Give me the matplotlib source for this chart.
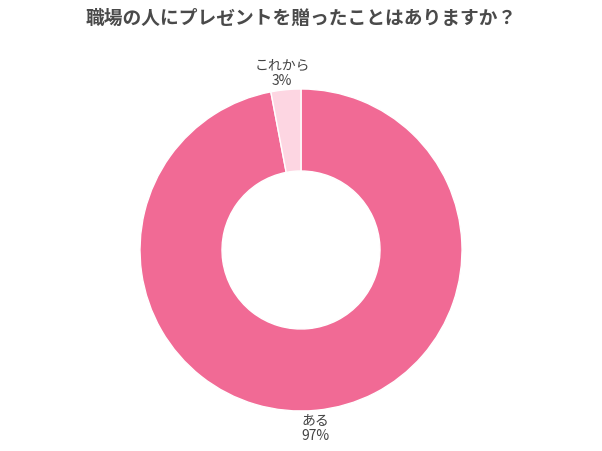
import matplotlib
matplotlib.use("Agg")
import matplotlib.pyplot as plt

plt.rcParams['font.family'] = ['Noto Sans CJK JP', 'DejaVu Sans']

title = "職場の人にプレゼントを贈ったことはありますか？"
labels = ["ある", "これから"]
values = [97, 3]
colors = ["#F16A95", "#FDD6E2"]

fig = plt.figure(figsize=(6.02, 4.51), dpi=100)
ax = fig.add_axes([0, 0, 1, 1])

ax.pie(values, colors=colors, startangle=90, counterclock=False,
       center=(301, 201), radius=161, frame=True,
       wedgeprops=dict(width=82, edgecolor='white', linewidth=1))
ax.set_xlim(0, 602)
ax.set_ylim(0, 451)
ax.set_aspect('equal')
ax.axis('off')

fig.text(0.5, 1 - 18/451, title, ha='center', va='center',
         fontsize=13.5, fontweight='bold', color='#4a4a4a')
ax.text(282, 451 - 73, f"{labels[1]}\n{values[1]}%", ha='center', va='center',
        fontsize=10, color='#444444', linespacing=1.1)
ax.text(315, 451 - 428, f"{labels[0]}\n{values[0]}%", ha='center', va='center',
        fontsize=10, color='#444444', linespacing=1.1)

fig.savefig("out.png", dpi=100, facecolor='white')
